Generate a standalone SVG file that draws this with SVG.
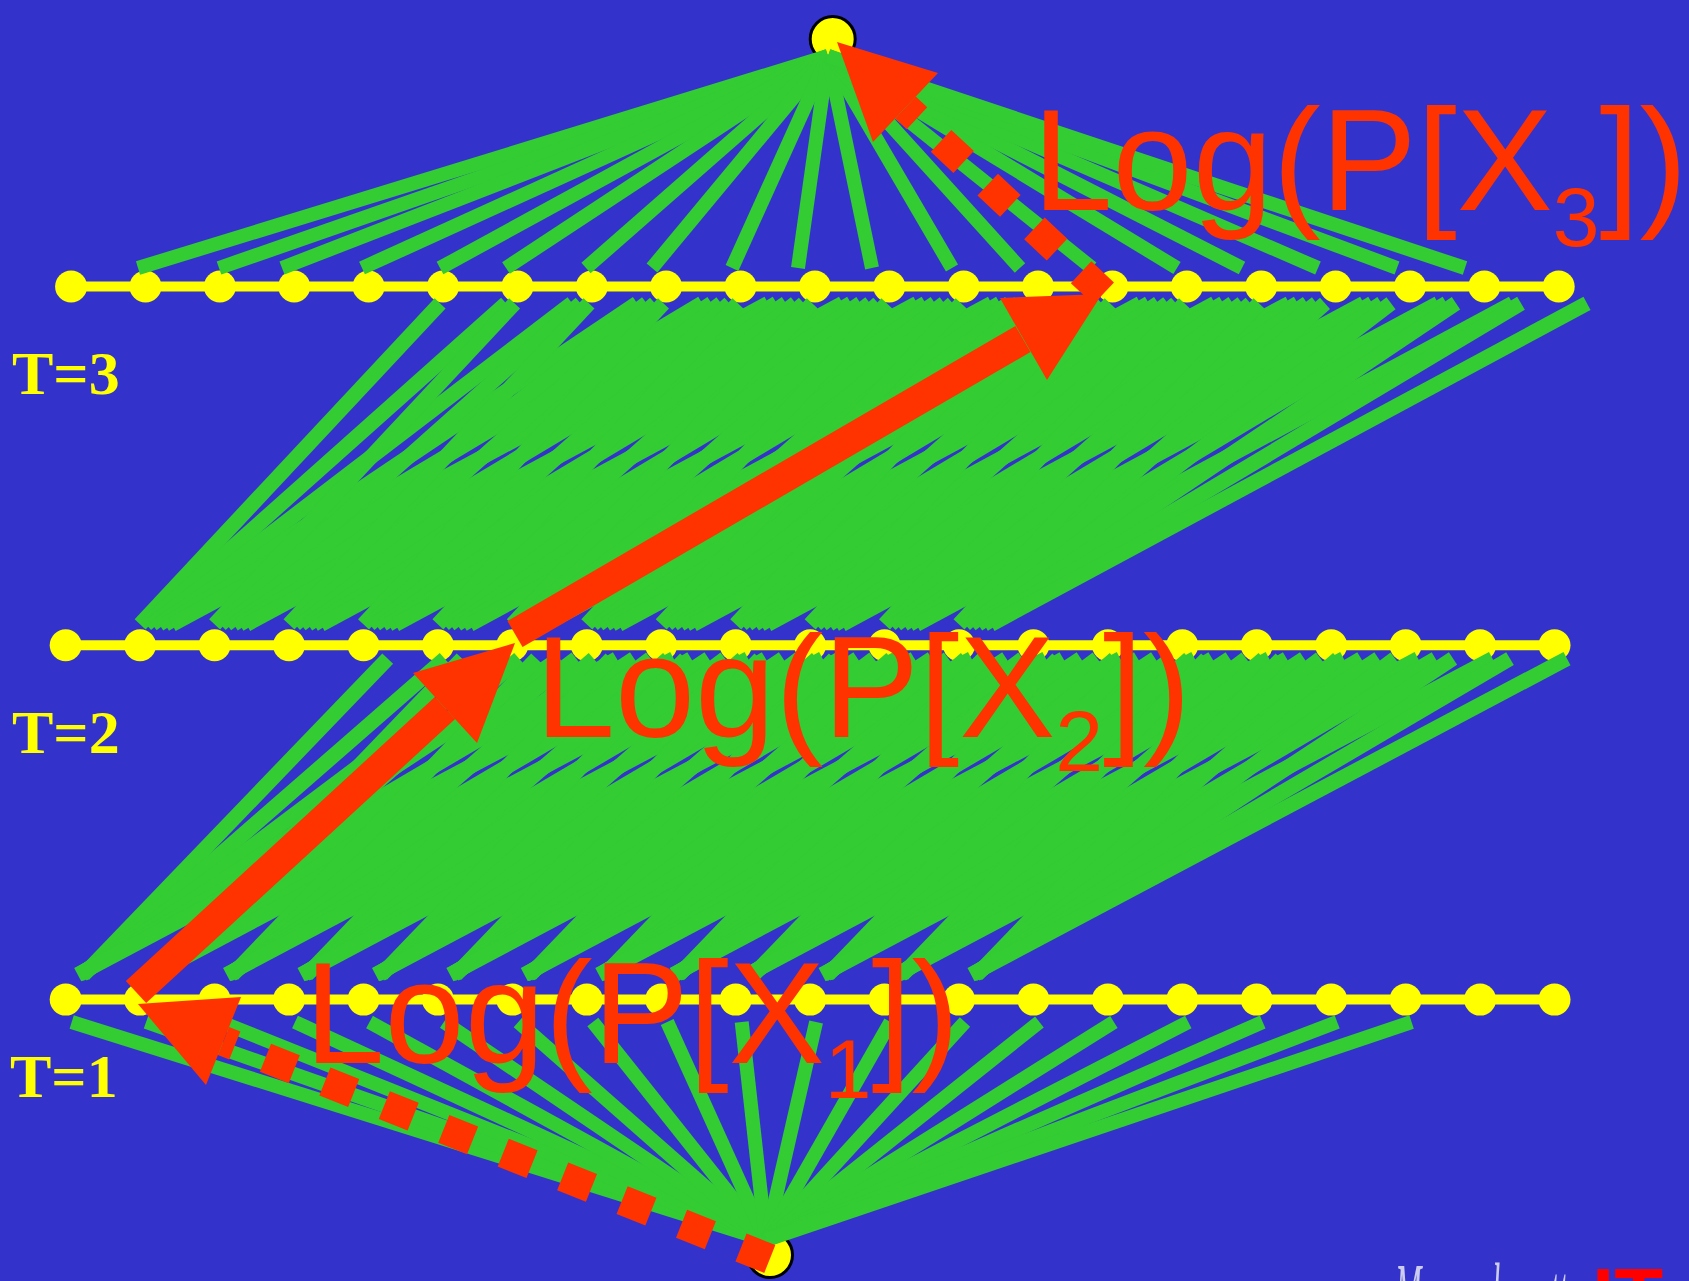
<svg xmlns="http://www.w3.org/2000/svg" width="1689" height="1281" viewBox="0 0 1689 1281">
<style>
.row{stroke:#FFFF00;stroke-width:10;stroke-linecap:butt}
.dot{fill:#FFFF00}
.apex{fill:#FFFF00;stroke:#000000;stroke-width:3}
.g{stroke:#33CC33;stroke-width:14;stroke-linecap:butt;fill:none}
.m{stroke-width:15}
.rd{stroke:#FF3300;stroke-width:30;stroke-linecap:butt;fill:none}
.dash{stroke-dasharray:31 33}
.head{fill:#FF3300}
.tl{font-family:"Liberation Serif","Times New Roman",serif;font-weight:bold;font-size:62px;fill:#FFFF00}
.lg{font-family:"Liberation Sans",Arial,sans-serif;font-size:144px;fill:#FF3300}
</style>
<defs>
<g id="bundleU">
<line x1="0" y1="-21" x2="300" y2="-342"/>
<line x1="6" y1="-21" x2="366" y2="-342"/>
<line x1="12" y1="-21" x2="432" y2="-342"/>
<line x1="19" y1="-21" x2="497" y2="-342"/>
<line x1="25" y1="-21" x2="562" y2="-342"/>
<line x1="32" y1="-21" x2="628" y2="-342"/>
</g>
<g id="bundleL">
<line x1="18" y1="-25" x2="322" y2="-341"/>
<line x1="17" y1="-25" x2="379" y2="-341"/>
<line x1="16" y1="-25" x2="436" y2="-341"/>
<line x1="14" y1="-25" x2="494" y2="-341"/>
<line x1="13" y1="-25" x2="551" y2="-341"/>
<line x1="12" y1="-25" x2="608" y2="-341"/>
</g>
</defs>
<rect x="0" y="0" width="1689" height="1281" fill="#3333CC"/>
<g id="rows">
<line class="row" x1="71.1" y1="286.5" x2="1558.7" y2="286.5"/>
<line class="row" x1="65.7" y1="645.3" x2="1554.5" y2="645.3"/>
<line class="row" x1="65.7" y1="999.6" x2="1554.5" y2="999.6"/>
</g>
<g id="nodes">
<g id="start"><circle class="apex" cx="770" cy="1255" r="22.5"/></g>
<g id="end"><circle class="apex" cx="832.7" cy="39" r="22.5"/></g>
<g id="t3_0"><circle class="dot" cx="71.1" cy="286.5" r="16"/></g>
<g id="t3_1"><circle class="dot" cx="145.5" cy="286.5" r="16"/></g>
<g id="t3_2"><circle class="dot" cx="219.9" cy="286.5" r="16"/></g>
<g id="t3_3"><circle class="dot" cx="294.2" cy="286.5" r="16"/></g>
<g id="t3_4"><circle class="dot" cx="368.6" cy="286.5" r="16"/></g>
<g id="t3_5"><circle class="dot" cx="443.0" cy="286.5" r="16"/></g>
<g id="t3_6"><circle class="dot" cx="517.4" cy="286.5" r="16"/></g>
<g id="t3_7"><circle class="dot" cx="591.8" cy="286.5" r="16"/></g>
<g id="t3_8"><circle class="dot" cx="666.1" cy="286.5" r="16"/></g>
<g id="t3_9"><circle class="dot" cx="740.5" cy="286.5" r="16"/></g>
<g id="t3_10"><circle class="dot" cx="814.9" cy="286.5" r="16"/></g>
<g id="t3_11"><circle class="dot" cx="889.3" cy="286.5" r="16"/></g>
<g id="t3_12"><circle class="dot" cx="963.7" cy="286.5" r="16"/></g>
<g id="t3_13"><circle class="dot" cx="1038.0" cy="286.5" r="16"/></g>
<g id="t3_14"><circle class="dot" cx="1112.4" cy="286.5" r="16"/></g>
<g id="t3_15"><circle class="dot" cx="1186.8" cy="286.5" r="16"/></g>
<g id="t3_16"><circle class="dot" cx="1261.2" cy="286.5" r="16"/></g>
<g id="t3_17"><circle class="dot" cx="1335.6" cy="286.5" r="16"/></g>
<g id="t3_18"><circle class="dot" cx="1410.0" cy="286.5" r="16"/></g>
<g id="t3_19"><circle class="dot" cx="1484.3" cy="286.5" r="16"/></g>
<g id="t3_20"><circle class="dot" cx="1558.7" cy="286.5" r="16"/></g>
<g id="t2_0"><circle class="dot" cx="65.7" cy="645.3" r="16"/></g>
<g id="t2_1"><circle class="dot" cx="140.1" cy="645.3" r="16"/></g>
<g id="t2_2"><circle class="dot" cx="214.6" cy="645.3" r="16"/></g>
<g id="t2_3"><circle class="dot" cx="289.0" cy="645.3" r="16"/></g>
<g id="t2_4"><circle class="dot" cx="363.5" cy="645.3" r="16"/></g>
<g id="t2_5"><circle class="dot" cx="437.9" cy="645.3" r="16"/></g>
<g id="t2_6"><circle class="dot" cx="512.3" cy="645.3" r="16"/></g>
<g id="t2_7"><circle class="dot" cx="586.8" cy="645.3" r="16"/></g>
<g id="t2_8"><circle class="dot" cx="661.2" cy="645.3" r="16"/></g>
<g id="t2_9"><circle class="dot" cx="735.7" cy="645.3" r="16"/></g>
<g id="t2_10"><circle class="dot" cx="810.1" cy="645.3" r="16"/></g>
<g id="t2_11"><circle class="dot" cx="884.5" cy="645.3" r="16"/></g>
<g id="t2_12"><circle class="dot" cx="959.0" cy="645.3" r="16"/></g>
<g id="t2_13"><circle class="dot" cx="1033.4" cy="645.3" r="16"/></g>
<g id="t2_14"><circle class="dot" cx="1107.9" cy="645.3" r="16"/></g>
<g id="t2_15"><circle class="dot" cx="1182.3" cy="645.3" r="16"/></g>
<g id="t2_16"><circle class="dot" cx="1256.7" cy="645.3" r="16"/></g>
<g id="t2_17"><circle class="dot" cx="1331.2" cy="645.3" r="16"/></g>
<g id="t2_18"><circle class="dot" cx="1405.6" cy="645.3" r="16"/></g>
<g id="t2_19"><circle class="dot" cx="1480.1" cy="645.3" r="16"/></g>
<g id="t2_20"><circle class="dot" cx="1554.5" cy="645.3" r="16"/></g>
<g id="t1_0"><circle class="dot" cx="65.7" cy="999.6" r="16"/></g>
<g id="t1_1"><circle class="dot" cx="140.1" cy="999.6" r="16"/></g>
<g id="t1_2"><circle class="dot" cx="214.6" cy="999.6" r="16"/></g>
<g id="t1_3"><circle class="dot" cx="289.0" cy="999.6" r="16"/></g>
<g id="t1_4"><circle class="dot" cx="363.5" cy="999.6" r="16"/></g>
<g id="t1_5"><circle class="dot" cx="437.9" cy="999.6" r="16"/></g>
<g id="t1_6"><circle class="dot" cx="512.3" cy="999.6" r="16"/></g>
<g id="t1_7"><circle class="dot" cx="586.8" cy="999.6" r="16"/></g>
<g id="t1_8"><circle class="dot" cx="661.2" cy="999.6" r="16"/></g>
<g id="t1_9"><circle class="dot" cx="735.7" cy="999.6" r="16"/></g>
<g id="t1_10"><circle class="dot" cx="810.1" cy="999.6" r="16"/></g>
<g id="t1_11"><circle class="dot" cx="884.5" cy="999.6" r="16"/></g>
<g id="t1_12"><circle class="dot" cx="959.0" cy="999.6" r="16"/></g>
<g id="t1_13"><circle class="dot" cx="1033.4" cy="999.6" r="16"/></g>
<g id="t1_14"><circle class="dot" cx="1107.9" cy="999.6" r="16"/></g>
<g id="t1_15"><circle class="dot" cx="1182.3" cy="999.6" r="16"/></g>
<g id="t1_16"><circle class="dot" cx="1256.7" cy="999.6" r="16"/></g>
<g id="t1_17"><circle class="dot" cx="1331.2" cy="999.6" r="16"/></g>
<g id="t1_18"><circle class="dot" cx="1405.6" cy="999.6" r="16"/></g>
<g id="t1_19"><circle class="dot" cx="1480.1" cy="999.6" r="16"/></g>
<g id="t1_20"><circle class="dot" cx="1554.5" cy="999.6" r="16"/></g>
</g>
<g id="connectors" class="g">
<g id="fan-top">
<line x1="828" y1="56" x2="138" y2="268"/>
<line x1="828" y1="56" x2="219" y2="268"/>
<line x1="828" y1="56" x2="282" y2="268"/>
<line x1="828" y1="56" x2="362" y2="268"/>
<line x1="828" y1="56" x2="440" y2="268"/>
<line x1="828" y1="56" x2="506" y2="268"/>
<line x1="828" y1="56" x2="586" y2="268"/>
<line x1="828" y1="56" x2="652" y2="268"/>
<line x1="828" y1="56" x2="732" y2="268"/>
<line x1="828" y1="56" x2="798" y2="268"/>
<line x1="828" y1="56" x2="872" y2="268"/>
<line x1="828" y1="56" x2="952" y2="268"/>
<line x1="828" y1="56" x2="1020" y2="268"/>
<line x1="828" y1="56" x2="1092" y2="268"/>
<line x1="828" y1="56" x2="1177" y2="268"/>
<line x1="828" y1="56" x2="1242" y2="268"/>
<line x1="828" y1="56" x2="1318" y2="268"/>
<line x1="828" y1="56" x2="1397" y2="268"/>
<line x1="828" y1="56" x2="1465" y2="268"/>
</g>
<g id="mesh-upper" class="m">
<use href="#bundleU" x="140.1" y="645.3"/>
<use href="#bundleU" x="214.6" y="645.3"/>
<use href="#bundleU" x="289.0" y="645.3"/>
<use href="#bundleU" x="363.5" y="645.3"/>
<use href="#bundleU" x="437.9" y="645.3"/>
<use href="#bundleU" x="512.3" y="645.3"/>
<use href="#bundleU" x="586.8" y="645.3"/>
<use href="#bundleU" x="661.2" y="645.3"/>
<use href="#bundleU" x="735.7" y="645.3"/>
<use href="#bundleU" x="810.1" y="645.3"/>
<use href="#bundleU" x="884.5" y="645.3"/>
<use href="#bundleU" x="959.0" y="645.3"/>
</g>
<g id="mesh-lower" class="m">
<use href="#bundleL" x="65.7" y="999.6"/>
<use href="#bundleL" x="140.1" y="999.6"/>
<use href="#bundleL" x="214.6" y="999.6"/>
<use href="#bundleL" x="289.0" y="999.6"/>
<use href="#bundleL" x="363.5" y="999.6"/>
<use href="#bundleL" x="437.9" y="999.6"/>
<use href="#bundleL" x="512.3" y="999.6"/>
<use href="#bundleL" x="586.8" y="999.6"/>
<use href="#bundleL" x="661.2" y="999.6"/>
<use href="#bundleL" x="735.7" y="999.6"/>
<use href="#bundleL" x="810.1" y="999.6"/>
<use href="#bundleL" x="884.5" y="999.6"/>
<use href="#bundleL" x="959.0" y="999.6"/>
</g>
<g id="fan-bottom">
<line x1="766" y1="1240" x2="71.7" y2="1022"/>
<line x1="766" y1="1240" x2="146.1" y2="1022"/>
<line x1="766" y1="1240" x2="220.6" y2="1022"/>
<line x1="766" y1="1240" x2="295" y2="1022"/>
<line x1="766" y1="1240" x2="369.5" y2="1022"/>
<line x1="766" y1="1240" x2="443.9" y2="1022"/>
<line x1="766" y1="1240" x2="518.3" y2="1022"/>
<line x1="766" y1="1240" x2="592.8" y2="1022"/>
<line x1="766" y1="1240" x2="667.2" y2="1022"/>
<line x1="766" y1="1240" x2="741.7" y2="1022"/>
<line x1="766" y1="1240" x2="816.1" y2="1022"/>
<line x1="766" y1="1240" x2="890.5" y2="1022"/>
<line x1="766" y1="1240" x2="965" y2="1022"/>
<line x1="766" y1="1240" x2="1039.4" y2="1022"/>
<line x1="766" y1="1240" x2="1113.9" y2="1022"/>
<line x1="766" y1="1240" x2="1188.3" y2="1022"/>
<line x1="766" y1="1240" x2="1262.7" y2="1022"/>
<line x1="766" y1="1240" x2="1337.2" y2="1022"/>
<line x1="766" y1="1240" x2="1411.6" y2="1022"/>
</g>
</g>
<g id="path-arrows">
<g id="arrow-x1">
<line class="rd dash" x1="769.8" y1="1259" x2="223.5" y2="1041"/>
<polygon class="head" points="138,1004 241,997 206,1085"/>
</g>
<g id="arrow-x2">
<line class="rd" x1="136" y1="992" x2="445" y2="708"/>
<polygon class="head" points="515,643 413,673 477,743"/>
</g>
<g id="arrow-x3">
<line class="rd" x1="515" y1="634" x2="1023" y2="339"/>
<polygon class="head" points="1102,294 1000,298 1047,380"/>
</g>
<g id="arrow-end">
<line class="rd dash" x1="1103.7" y1="293.4" x2="905.5" y2="107.5"/>
<polygon class="head" points="837,42 938,73 873,142"/>
</g>
</g>
<g id="labels">
<text class="tl" x="12" y="394">T=3</text>
<text class="tl" x="12" y="753">T=2</text>
<text class="tl" x="10" y="1097">T=1</text>
<text class="lg" x="1032.5" y="210">Log(P[X<tspan font-size="84" dy="36">3</tspan><tspan dy="-36">])</tspan></text>
<text class="lg" x="534.9" y="737">Log(P[X<tspan font-size="86" dy="34">2</tspan><tspan dy="-34">])</tspan></text>
<text class="lg" x="304.5" y="1063">Log(P[X<tspan font-size="84" dy="35">1</tspan><tspan dy="-35">])</tspan></text>
</g>
<g id="logo">
<text x="1395" y="1326" font-family="Liberation Serif, serif" font-style="italic" font-size="90" fill="#CCCCEE" textLength="185" lengthAdjust="spacingAndGlyphs">Massachusetts</text>
<text x="1592" y="1324" font-family="Liberation Sans, Arial, sans-serif" font-weight="bold" font-size="80" fill="#FF0000">IT</text>
</g>
</svg>
